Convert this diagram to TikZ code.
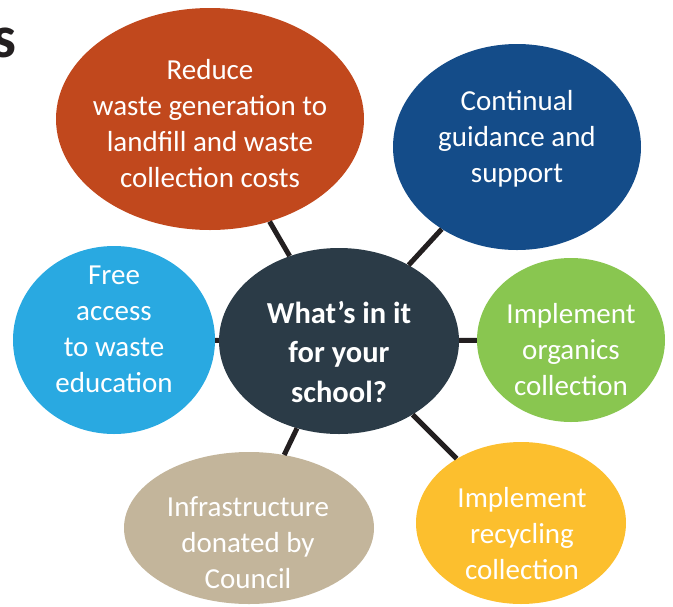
\documentclass[tikz,border=0pt]{standalone}
\usepackage{fontspec}
\setmainfont{Carlito}
\usepackage{tikz}
\usetikzlibrary{shapes.geometric}
\definecolor{rust}{HTML}{C1481D}
\definecolor{navy}{HTML}{144C89}
\definecolor{sky}{HTML}{29A9E1}
\definecolor{leaf}{HTML}{89C650}
\definecolor{sun}{HTML}{FCBF2E}
\definecolor{sand}{HTML}{C3B59B}
\definecolor{slate}{HTML}{2B3B47}
\definecolor{ink}{HTML}{231F20}
\begin{document}
\begin{tikzpicture}[x=1pt, y=-1pt,
    bubble/.style={ellipse, inner sep=0pt},
    btext/.style={text=white, align=center, inner sep=0pt, font=\fontsize{29}{36}\selectfont},
    link/.style={draw=ink, line width=5pt}]
    \useasboundingbox (0,0) rectangle (673,606);
    \node[anchor=base east, inner sep=0pt, text=ink, font=\fontsize{60}{60}\selectfont\bfseries] (S) at (17,57) {s};
    \node[bubble, fill=slate, minimum width=240pt, minimum height=186pt] (C) at (339,341) {};
    \node[bubble, fill=rust, minimum width=308pt, minimum height=222pt] (R) at (210,119) {};
    \node[bubble, fill=navy, minimum width=248pt, minimum height=206pt] (B) at (517,147) {};
    \node[bubble, fill=sky, minimum width=202pt, minimum height=188pt] (L) at (114,340) {};
    \node[bubble, fill=leaf, minimum width=188pt, minimum height=164pt] (G) at (571,340) {};
    \node[bubble, fill=sun, minimum width=210pt, minimum height=162pt] (Y) at (521,523) {};
    \node[bubble, fill=sand, minimum width=250pt, minimum height=152pt] (T) at (249,528) {};
    \path [link] (C) edge (R);
    \path [link] (C) edge (B);
    \path [link] (C) edge (L);
    \path [link] (C) edge (G);
    \path [link] (C) edge (Y);
    \path [link] (C) edge (T);
    \node[btext, font=\fontsize{30.5}{39.5}\selectfont\bfseries] (Ct) at (339,352) {What’s in it\\for your\\school?};
    \node[btext] (Rt) at (210,124) {Reduce\\waste generation to\\landfill and waste\\collection costs};
    \node[btext] (Bt) at (517,139) {Continual\\guidance and\\support};
    \node[btext] (Lt) at (114,329) {Free\\access\\to waste\\education};
    \node[btext] (Gt) at (571,350) {Implement\\organics\\collection};
    \node[btext] (Yt) at (522,534) {Implement\\recycling\\collection};
    \node[btext] (Tt) at (248,543) {Infrastructure\\donated by\\Council};
\end{tikzpicture}
\end{document}
